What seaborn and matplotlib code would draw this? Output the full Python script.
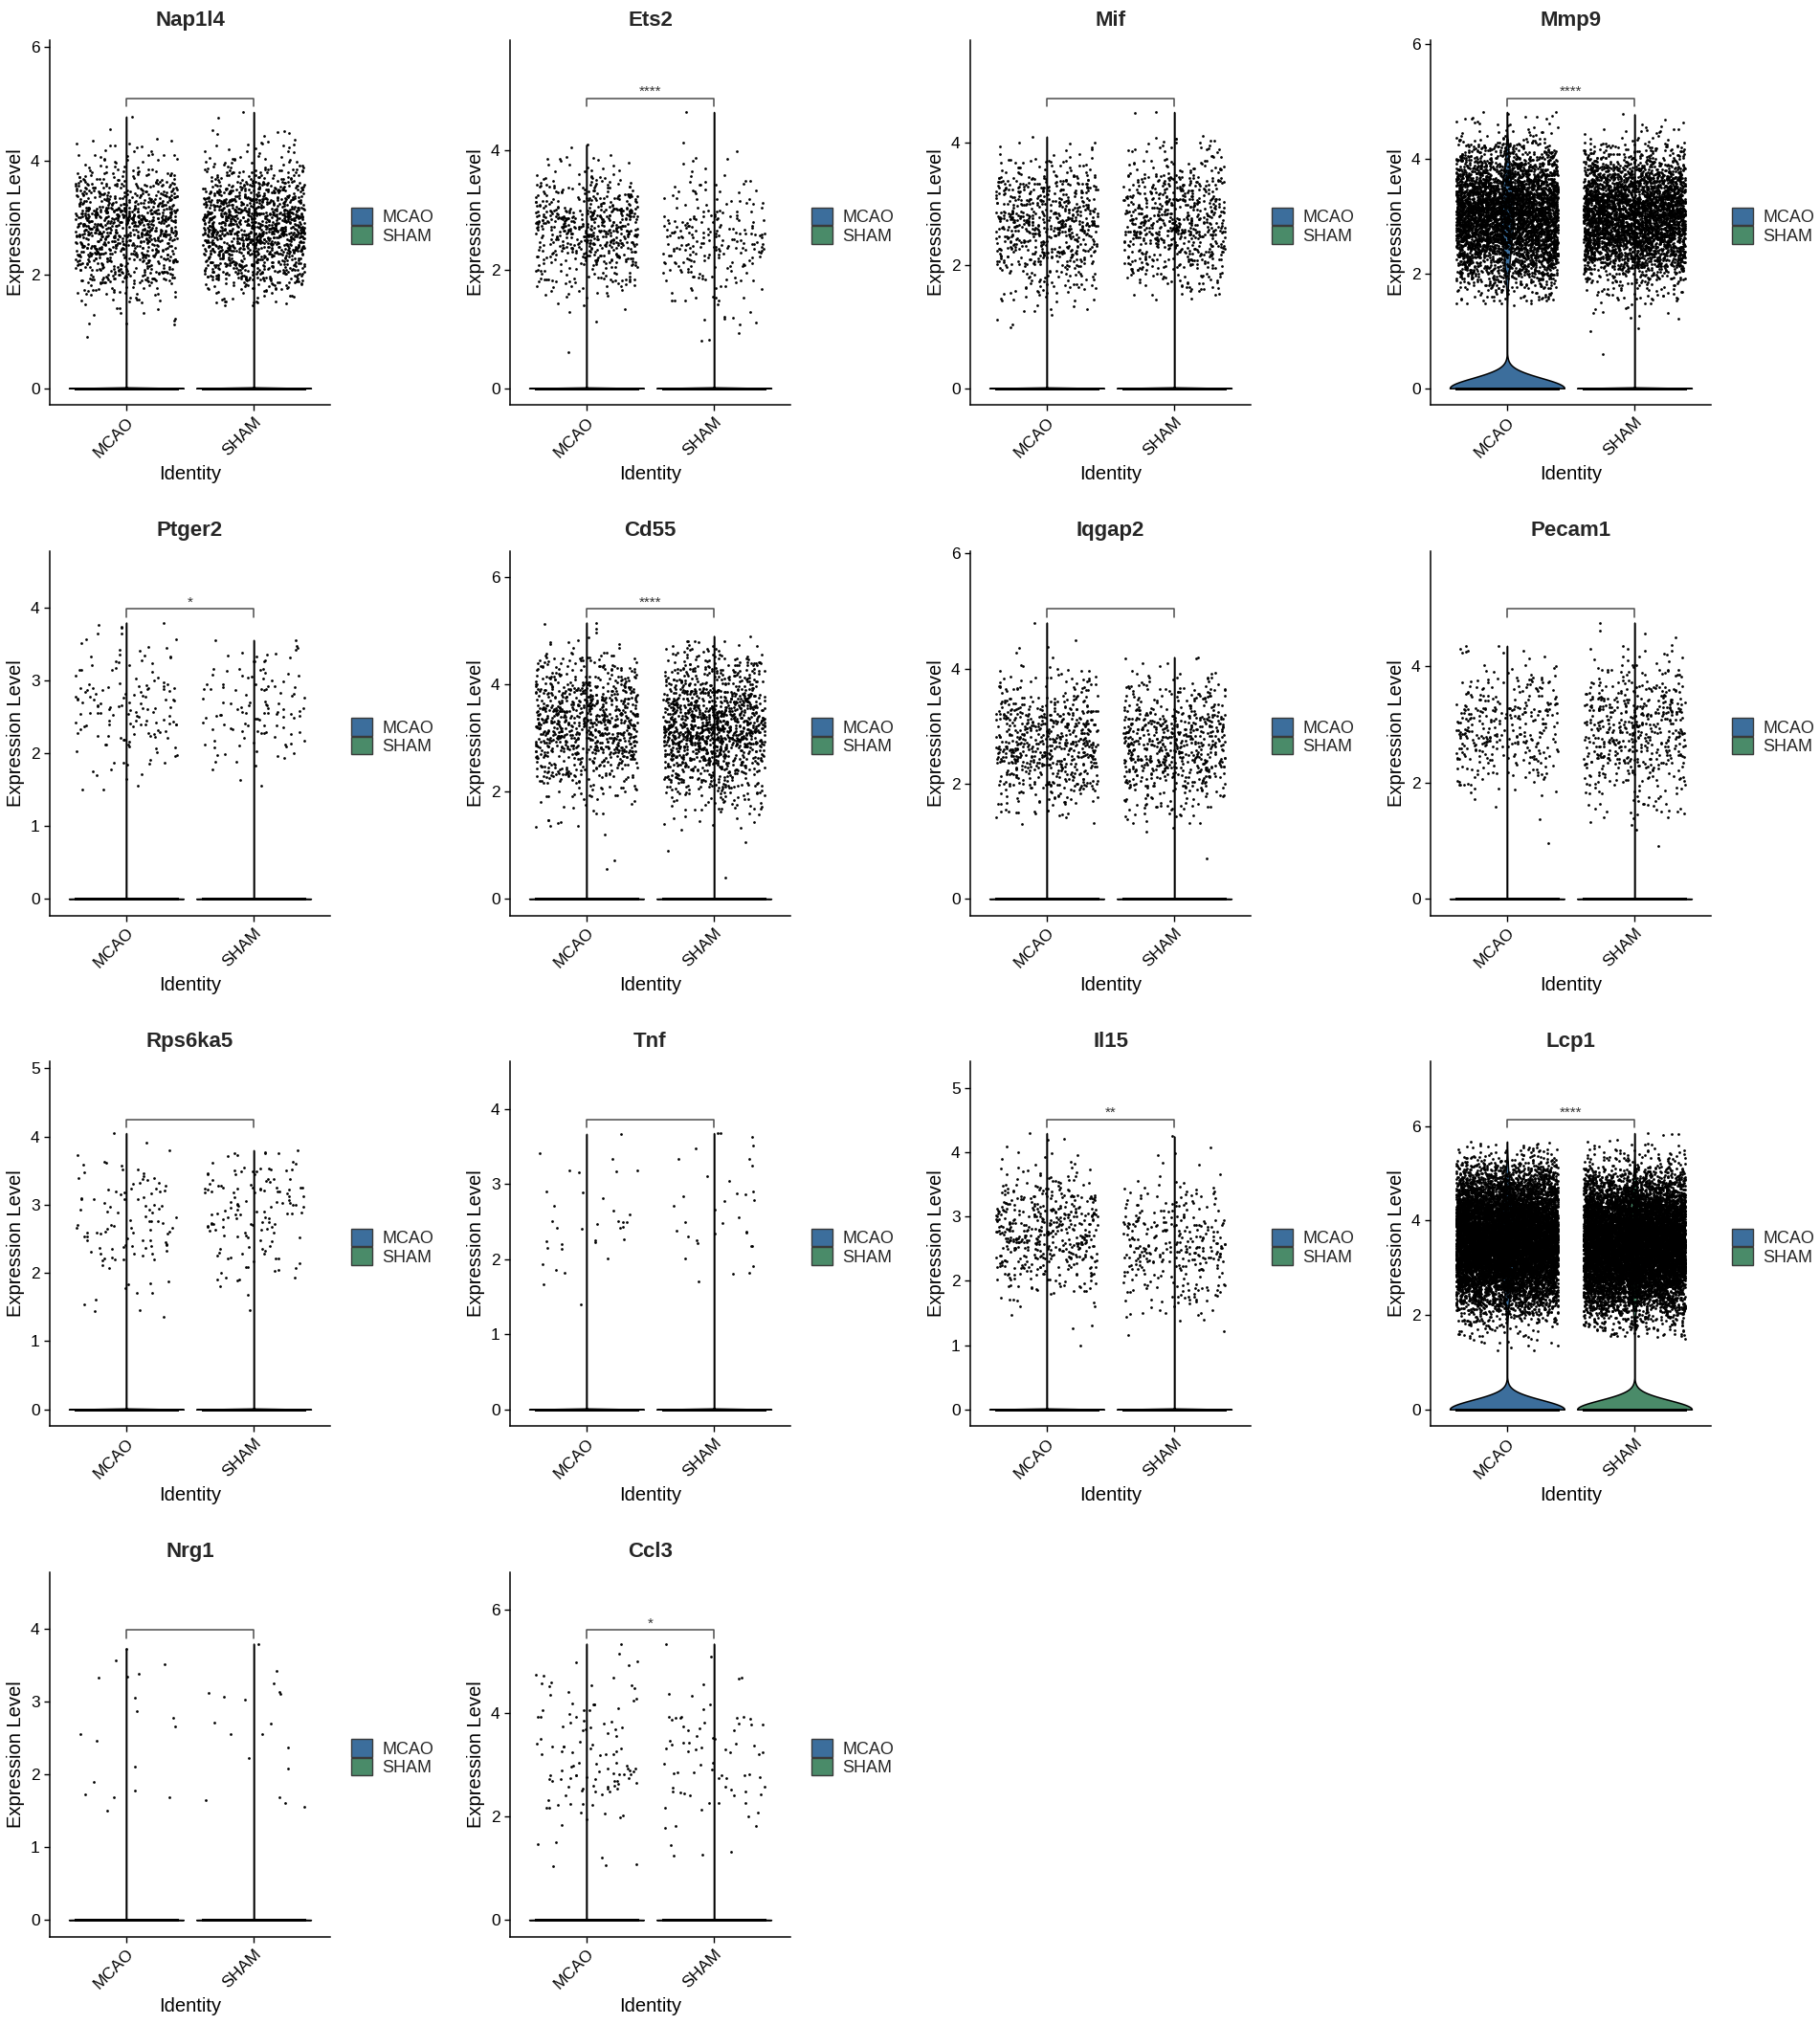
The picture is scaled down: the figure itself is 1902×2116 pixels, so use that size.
import numpy as np
import pandas as pd
import matplotlib
matplotlib.use("Agg")
import matplotlib.pyplot as plt
from matplotlib.patches import Patch
from matplotlib.ticker import MultipleLocator
import seaborn as sns

# --- values -------------------------------------------------------------
GENES = ["Nap1l4", "Ets2", "Mif", "Mmp9", "Ptger2", "Cd55", "Iqgap2",
         "Pecam1", "Rps6ka5", "Tnf", "Il15", "Lcp1", "Nrg1", "Ccl3"]
IDENTS = ["MCAO", "SHAM"]
COLORS = ["#3C6E9C", "#4A8B69"]

# cells with expression above zero (the point clouds)
MCAO_N = [1000, 600, 700, 4500, 150, 900, 650, 350, 110, 35, 500, 11000, 19, 120]
SHAM_N = [1300, 250, 700, 3800, 120, 1300, 650, 550, 140, 35, 330, 11000, 19, 80]
# cells at zero (the line at 0)
MCAO_ZERO = [9000, 8000, 8000, 12000, 6000, 9000, 8000, 7000, 6000, 6000, 7000, 20000, 6000, 6000]
SHAM_ZERO = [9000, 7000, 8000, 15000, 6000, 9000, 8000, 7000, 6000, 6000, 7000, 20000, 6000, 6000]
# centre / spread / lowest / highest of the expressing cells
MCAO_MEAN = [2.8, 2.7, 2.7, 3.0, 2.6, 3.3, 2.7, 3.0, 2.7, 2.5, 2.7, 3.6, 2.5, 3.2]
SHAM_MEAN = [2.8, 2.5, 2.7, 3.0, 2.6, 3.2, 2.7, 2.9, 2.9, 2.6, 2.55, 3.5, 2.6, 3.2]
MCAO_SD = [0.6, 0.55, 0.6, 0.6, 0.55, 0.7, 0.6, 0.6, 0.6, 0.6, 0.55, 0.7, 0.6, 1.0]
SHAM_SD = [0.6, 0.6, 0.6, 0.55, 0.5, 0.7, 0.6, 0.65, 0.55, 0.6, 0.55, 0.7, 0.6, 0.9]
MCAO_MIN = [0.9, 0.6, 1.0, 1.45, 1.5, 0.55, 1.3, 0.95, 1.35, 1.4, 1.0, 1.25, 1.5, 1.05]
SHAM_MIN = [1.45, 0.8, 1.45, 0.6, 1.55, 0.4, 0.7, 0.9, 1.45, 1.7, 1.15, 1.5, 1.55, 1.25]
MCAO_MAX = [4.77, 4.1, 4.1, 4.82, 3.8, 5.15, 4.8, 4.35, 4.05, 3.67, 4.3, 5.67, 3.73, 5.35]
SHAM_MAX = [4.85, 4.65, 4.5, 4.78, 3.56, 4.9, 4.2, 4.75, 3.8, 3.68, 4.25, 5.85, 3.8, 5.35]

SIGNIF = ["", "****", "", "****", "*", "****", "", "", "", "", "**", "****", "", "*"]
YSTEP = [2, 2, 2, 2, 1, 2, 2, 2, 1, 1, 1, 2, 1, 2]

rng = np.random.default_rng(11)
np.random.seed(11)  # stripplot jitter


def expr_values(n, mean, sd, lo, hi):
    v = rng.normal(mean, sd, n * 4)
    v = v[(v > lo) & (v < hi)][:n]
    v[0], v[1] = lo, hi
    return v


rows = []
for i, gene in enumerate(GENES):
    groups = [
        (MCAO_N[i], MCAO_ZERO[i], MCAO_MEAN[i], MCAO_SD[i], MCAO_MIN[i], MCAO_MAX[i]),
        (SHAM_N[i], SHAM_ZERO[i], SHAM_MEAN[i], SHAM_SD[i], SHAM_MIN[i], SHAM_MAX[i]),
    ]
    for ident, (n, nz, mu, sd, lo, hi) in zip(IDENTS, groups):
        vals = np.concatenate([np.zeros(nz), expr_values(n, mu, sd, lo, hi)])
        rows.append(pd.DataFrame({"gene": gene, "ident": ident, "expr": vals}))
df = pd.concat(rows, ignore_index=True)


def violin_bw(y):
    # Seurat-like: mostly-zero groups collapse to a line
    if np.mean(y == 0) > 0.75:
        return 1e-4
    sd = y.std(ddof=1)
    q25, q75 = np.percentile(y, [25, 75])
    lo = min(sd, (q75 - q25) / 1.34)
    return 0.9 * lo * len(y) ** -0.2 / sd


sns.set_theme(style="ticks")
plt.rcParams["font.family"] = ["Liberation Sans", "DejaVu Sans"]

W, H = 1902, 2116
fig = plt.figure(figsize=(W / 100, H / 100), dpi=100)
palette = dict(zip(IDENTS, COLORS))

for k, gene in enumerate(GENES):
    r, c = divmod(k, 4)
    left = c * 481 + 52
    top = r * 533.5 + 42
    ax = fig.add_axes([left / W, 1 - (top + 381) / H, 293 / W, 381 / H])
    sub = df[df["gene"] == gene]

    for ident in IDENTS:
        g = sub[sub["ident"] == ident]
        sns.violinplot(
            data=g, x="ident", y="expr", order=IDENTS,
            hue="ident", hue_order=IDENTS, palette=palette,
            density_norm="width", cut=0, inner=None, width=0.9,
            linewidth=1.1, linecolor="black", saturation=1,
            bw_method=violin_bw(g["expr"].values), gridsize=300,
            legend=False, ax=ax,
        )
    sns.stripplot(
        data=sub, x="ident", y="expr", order=IDENTS, color="black",
        size=2.0, jitter=0.4, linewidth=0, ax=ax,
    )

    ymax = sub["expr"].max()
    upper = 1.2 * ymax
    ax.set_ylim(-0.05 * upper, 1.05 * upper)
    ax.set_xlim(-0.6, 1.6)

    # significance bracket
    by = 1.05 * ymax
    tip = 0.025 * upper
    ax.plot([0, 0, 1, 1], [by - tip, by, by, by - tip], color="#4d4d4d", lw=1.1)
    if SIGNIF[k]:
        ax.annotate(SIGNIF[k], xy=(0.5, by), xytext=(0, 2), textcoords="offset points",
                    ha="center", va="baseline", fontsize=11, color="#333333")

    ax.yaxis.set_major_locator(MultipleLocator(YSTEP[k]))
    ax.set_xticks([0, 1])
    ax.set_xticklabels(IDENTS, rotation=45, ha="right", va="top", rotation_mode="anchor")
    ax.tick_params(length=4, width=1, labelsize=12.5, color="black", labelcolor="black")
    ax.set_xlabel("Identity", fontsize=14.5, color="black")
    ax.set_ylabel("Expression Level", fontsize=14.5, color="black")
    ax.set_title(gene, fontsize=16, fontweight="bold", pad=11)
    sns.despine(ax=ax)
    for s in ["left", "bottom"]:
        ax.spines[s].set_linewidth(1.1)
        ax.spines[s].set_color("black")

    handles = [Patch(facecolor=col, edgecolor="#3a3a3a", linewidth=1) for col in COLORS]
    ax.legend(handles, IDENTS, loc="center left", bbox_to_anchor=(1.075, 0.49),
              frameon=False, fontsize=13, handlelength=1.2, handleheight=1.2,
              handletextpad=0.6, labelspacing=0, borderpad=0, borderaxespad=0)

fig.savefig("out.png", dpi=100)
